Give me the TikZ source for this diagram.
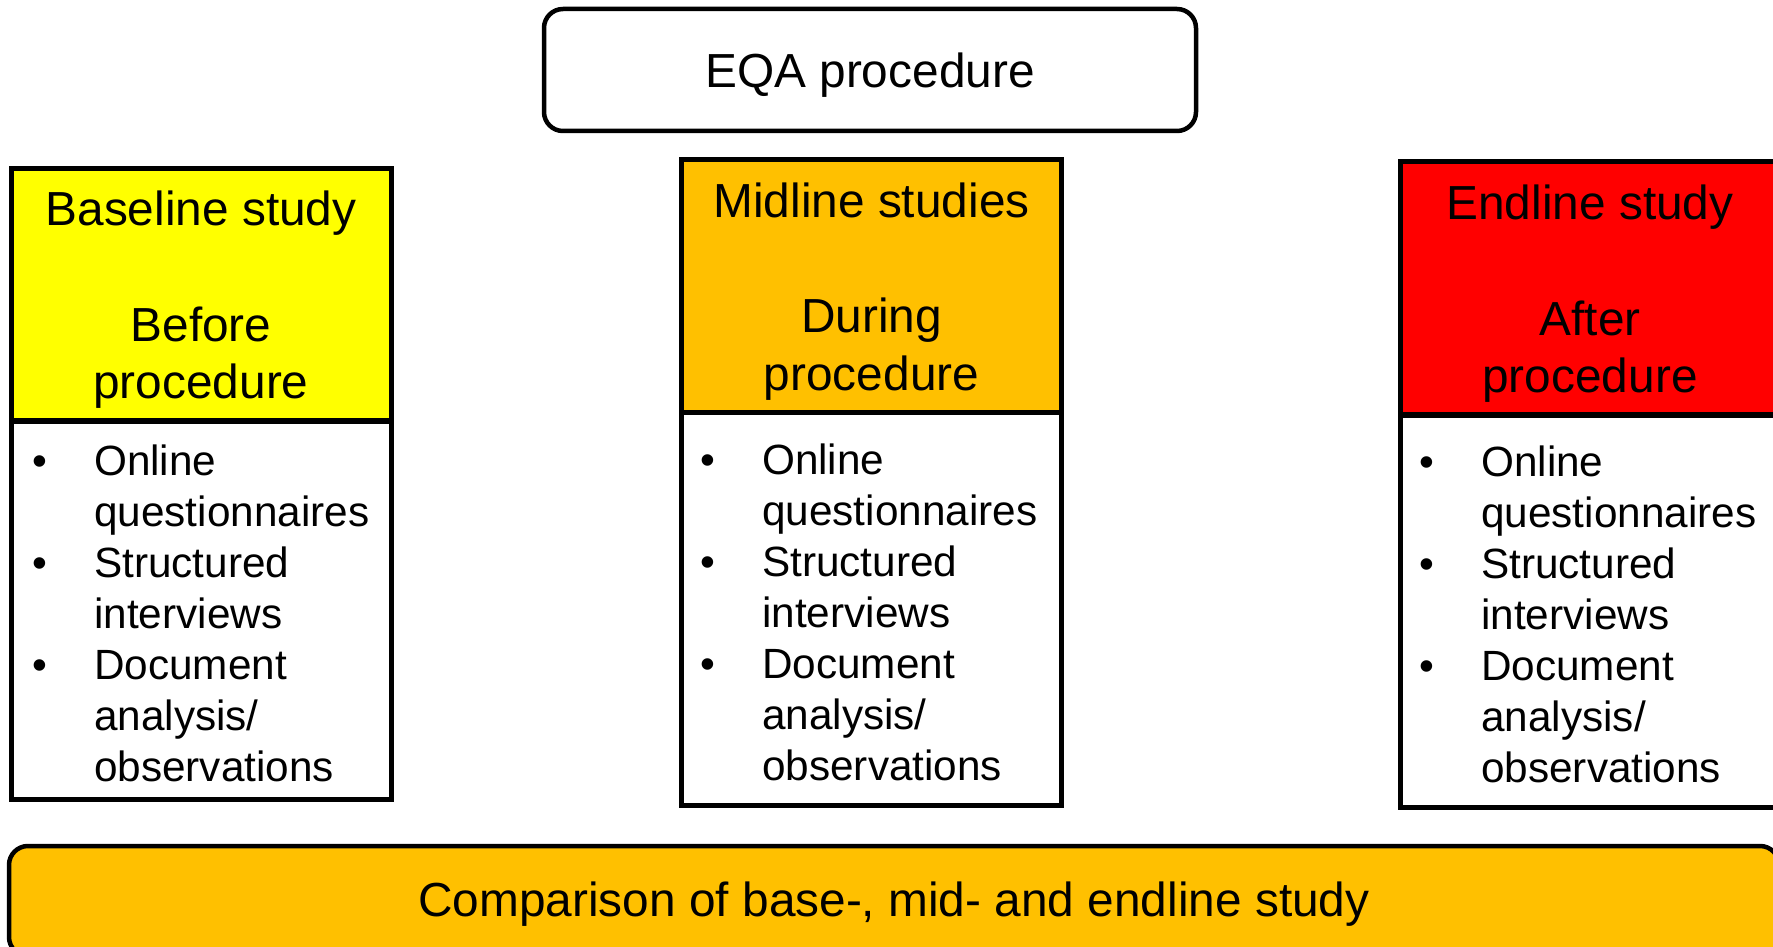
\documentclass[tikz,border=0pt]{standalone}
\usepackage{fontspec}
\setmainfont{Liberation Sans}
\definecolor{hdryellow}{HTML}{FFFF00}
\definecolor{hdrorange}{HTML}{FFC000}
\definecolor{hdrred}{HTML}{FF0000}
\newcommand\blt{\llap{\makebox[0pt]{\textbullet}\hspace{54pt}}}
\newcommand\mylist{%
  \begin{tabular}[t]{@{}l@{}}
  \blt Online\\
  questionnaires\\
  \blt Structured\\
  interviews\\
  \blt Document\\
  analysis/\\
  observations
  \end{tabular}}
\begin{document}
\begin{tikzpicture}[x=1pt,y=-1pt,
  hdrbox/.style={draw, line width=5pt, rectangle, inner sep=0pt, minimum width=380pt,
    minimum height=253pt},
  hdrtext/.style={inner sep=0pt, align=center, font=\fontsize{47.8}{57.7}\selectfont},
  listbox/.style={draw, line width=5pt, rectangle, inner sep=0pt, minimum width=380pt, fill=white},
  listtext/.style={anchor=base west, inner sep=0pt, font=\fontsize{42.3}{51.1}\selectfont},
  roundbox/.style={draw, line width=4.5pt, rounded corners=19pt, inner sep=0pt}]
\useasboundingbox (0,0) rectangle (1773,947);
\clip (0,0) rectangle (1773,947);
\fill[white] (0,0) rectangle (1773,947);

% top box
\node[roundbox, fill=white, minimum width=652pt, minimum height=122pt] (eqa) at (870,70) {};
\node[hdrtext] (eqax) at ([yshift=-5.5pt]eqa.center) {EQA procedure};

% list boxes
\node[listbox, minimum height=378pt] (bl) at (201,610) {};
\node[listbox, minimum height=393pt] (ml) at (871.5,609.4) {};
\node[listbox, minimum height=392pt] (el) at (1590,611) {};

% headers
\node[hdrbox, fill=hdryellow, minimum height=252pt] (bh) at (201,294.5) {};
\node[hdrbox, fill=hdrorange] (mh) at (871.5,286) {};
\node[hdrbox, fill=hdrred] (eh) at (1590,288.4) {};
\node[hdrtext] (bhx) at ([yshift=-5.5pt]bh.center) {Baseline study\\[57.7pt]Before\\procedure};
\node[hdrtext] (mhx) at ([yshift=-5.5pt]mh.center) {Midline studies\\[57.7pt]During\\procedure};
\node[hdrtext] (ehx) at ([yshift=-5.5pt]eh.center) {Endline study\\[57.7pt]After\\procedure};

% list texts
\node[listtext] (bt) at (94,475) {\mylist};
\node[listtext] (mt) at (762,474) {\mylist};
\node[listtext] (et) at (1481,476) {\mylist};

% bottom bar
\node[roundbox, fill=hdrorange, minimum width=1770pt, minimum height=110pt] (cmp) at (894,901) {};
\node[hdrtext] (cmpx) at ([yshift=-3.5pt]cmp.center) {Comparison of base-, mid- and endline study};
\end{tikzpicture}
\end{document}
